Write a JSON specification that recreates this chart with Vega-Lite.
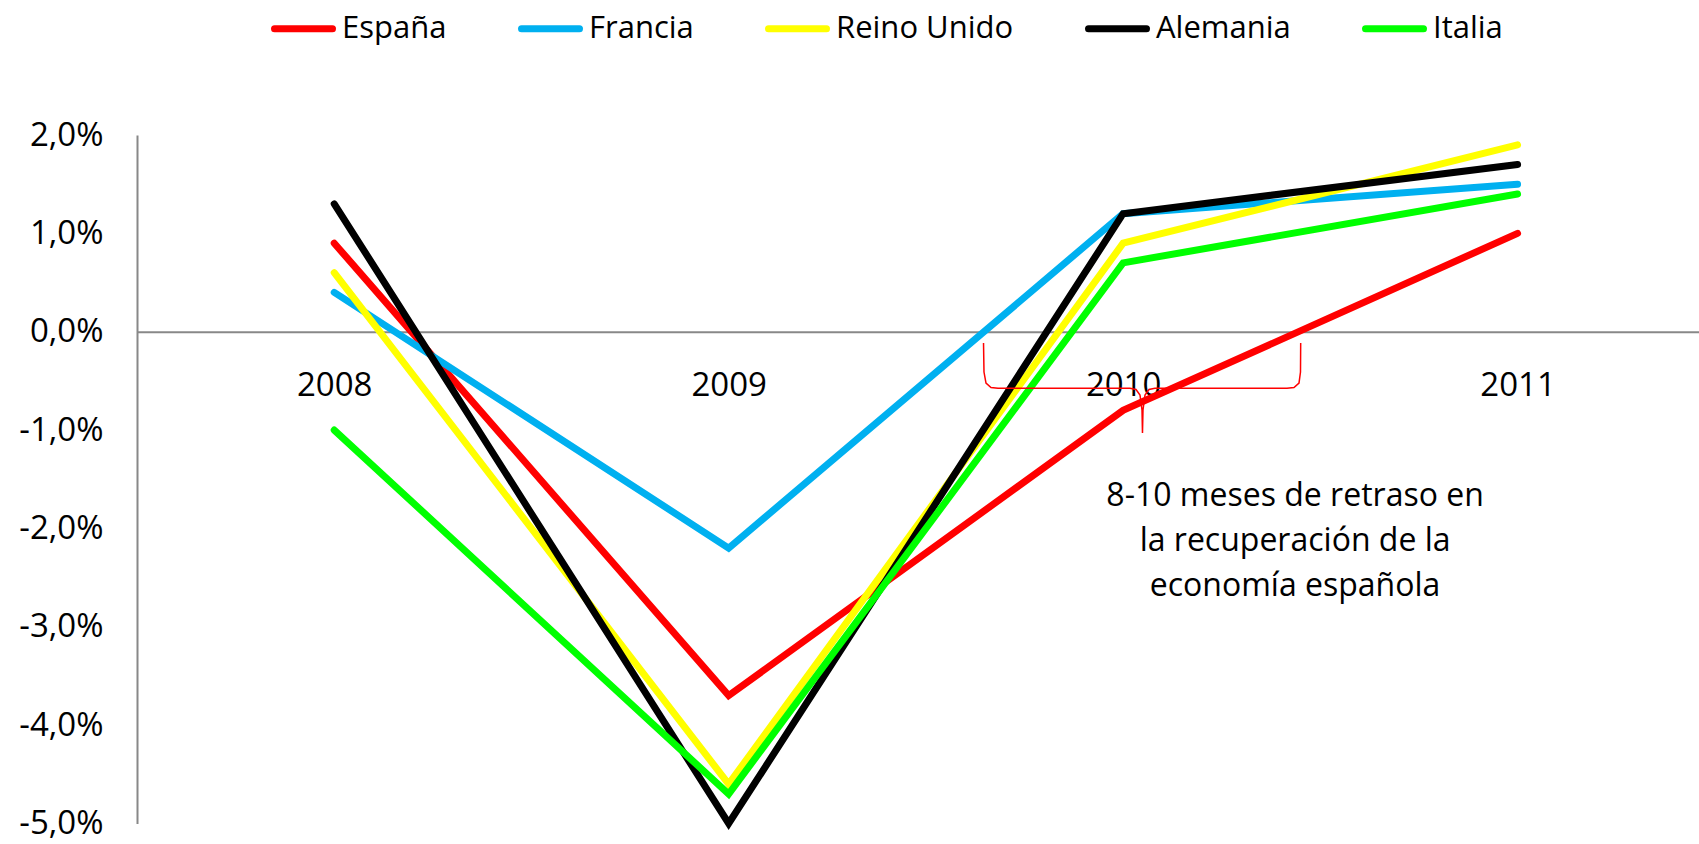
{
  "$schema": "https://vega.github.io/schema/vega-lite/v6.json",
  "autosize": {"type": "none"},
  "padding": {"left": 137, "top": 135, "right": 0, "bottom": 20},
  "width": 1562,
  "height": 688.5,
  "background": "white",
  "config": {
    "view": {"stroke": null},
    "font": "Open Sans",
    "axis": {"labelFont": "Open Sans", "labelColor": "#000000", "grid": false, "ticks": false, "title": null}
  },
  "datasets": {
    "series": [
      {"country": "España", "year": 2008, "value": 0.9},
      {"country": "España", "year": 2009, "value": -3.7},
      {"country": "España", "year": 2010, "value": -0.8},
      {"country": "España", "year": 2011, "value": 1.0},
      {"country": "Francia", "year": 2008, "value": 0.4},
      {"country": "Francia", "year": 2009, "value": -2.2},
      {"country": "Francia", "year": 2010, "value": 1.2},
      {"country": "Francia", "year": 2011, "value": 1.5},
      {"country": "Reino Unido", "year": 2008, "value": 0.6},
      {"country": "Reino Unido", "year": 2009, "value": -4.6},
      {"country": "Reino Unido", "year": 2010, "value": 0.9},
      {"country": "Reino Unido", "year": 2011, "value": 1.9},
      {"country": "Alemania", "year": 2008, "value": 1.3},
      {"country": "Alemania", "year": 2009, "value": -5.0},
      {"country": "Alemania", "year": 2010, "value": 1.2},
      {"country": "Alemania", "year": 2011, "value": 1.7},
      {"country": "Italia", "year": 2008, "value": -1.0},
      {"country": "Italia", "year": 2009, "value": -4.7},
      {"country": "Italia", "year": 2010, "value": 0.7},
      {"country": "Italia", "year": 2011, "value": 1.4}
    ],
    "brace": [
      {"i": 1, "year": 2009.6461, "value": -0.1149},
      {"i": 2, "year": 2009.6473, "value": -0.4098},
      {"i": 3, "year": 2009.6524, "value": -0.5216},
      {"i": 4, "year": 2009.6651, "value": -0.5674},
      {"i": 5, "year": 2009.6828, "value": -0.5755},
      {"i": 6, "year": 2010.0175, "value": -0.5755},
      {"i": 7, "year": 2010.0327, "value": -0.5877},
      {"i": 8, "year": 2010.0428, "value": -0.6436},
      {"i": 9, "year": 2010.0479, "value": -0.7961},
      {"i": 10, "year": 2010.0491, "value": -1.03},
      {"i": 11, "year": 2010.0504, "value": -0.7961},
      {"i": 12, "year": 2010.0555, "value": -0.6436},
      {"i": 13, "year": 2010.0656, "value": -0.5877},
      {"i": 14, "year": 2010.0808, "value": -0.5755},
      {"i": 15, "year": 2010.4155, "value": -0.5755},
      {"i": 16, "year": 2010.4332, "value": -0.5674},
      {"i": 17, "year": 2010.4459, "value": -0.5216},
      {"i": 18, "year": 2010.4497, "value": -0.4098},
      {"i": 19, "year": 2010.4502, "value": -0.1149}
    ],
    "note": [
      {"year": 2010.436, "value": -1.514, "label": "8-10 meses de retraso en\nla recuperación de la\neconomía española"}
    ]
  },
  "layer": [
    {
      "data": {"name": "series"},
      "mark": {"type": "line", "strokeWidth": 7, "strokeCap": "round", "strokeJoin": "miter"},
      "encoding": {
        "x": {
          "field": "year", "type": "quantitative",
          "scale": {"domain": [2007.5, 2011.46], "nice": false, "zero": false},
          "axis": {
            "orient": "bottom", "offset": -491.8, "values": [2008, 2009, 2010, 2011], "format": "d",
            "domainColor": "#888888", "domainWidth": 2, "labelFontSize": 33, "labelPadding": 38,
            "labelFlush": false, "labelOverlap": false
          }
        },
        "y": {
          "field": "value", "type": "quantitative",
          "scale": {"domain": [-5, 2], "nice": false, "zero": false},
          "axis": {
            "values": [-5, -4, -3, -2, -1, 0, 1, 2],
            "labelExpr": "(datum.value < 0 ? '-' : '') + replace(format(abs(datum.value), '.1f'), '.', ',') + '%'",
            "domainColor": "#888888", "domainWidth": 2, "labelFontSize": 33, "labelPadding": 34,
            "labelFlush": false, "labelOverlap": false
          }
        },
        "color": {
          "field": "country", "type": "nominal",
          "sort": ["España", "Francia", "Reino Unido", "Alemania", "Italia"],
          "scale": {
            "domain": ["España", "Francia", "Reino Unido", "Alemania", "Italia"],
            "range": ["#FF0000", "#00B0F0", "#FFFF00", "#000000", "#00FF00"]
          },
          "legend": {
            "title": null, "orient": "none", "direction": "horizontal",
            "legendX": 134, "legendY": -139,
            "symbolType": "stroke", "symbolSize": 3364, "symbolStrokeWidth": 7,
            "labelFont": "Open Sans", "labelFontSize": 31, "labelColor": "#000000",
            "labelOffset": 6, "columnPadding": 60, "labelLimit": 400,
            "encode": {"symbols": {"update": {"strokeCap": {"value": "round"}}}}
          }
        }
      }
    },
    {
      "data": {"name": "brace"},
      "mark": {"type": "line", "color": "#FF0000", "strokeWidth": 1.5},
      "encoding": {
        "x": {"field": "year", "type": "quantitative"},
        "y": {"field": "value", "type": "quantitative"},
        "order": {"field": "i", "type": "quantitative"}
      }
    },
    {
      "data": {"name": "note"},
      "mark": {"type": "text", "lineBreak": "\n", "align": "center", "baseline": "top", "fontSize": 32, "lineHeight": 45, "font": "Open Sans", "color": "#000000"},
      "encoding": {
        "x": {"field": "year", "type": "quantitative"},
        "y": {"field": "value", "type": "quantitative"},
        "text": {"field": "label"}
      }
    }
  ]
}
